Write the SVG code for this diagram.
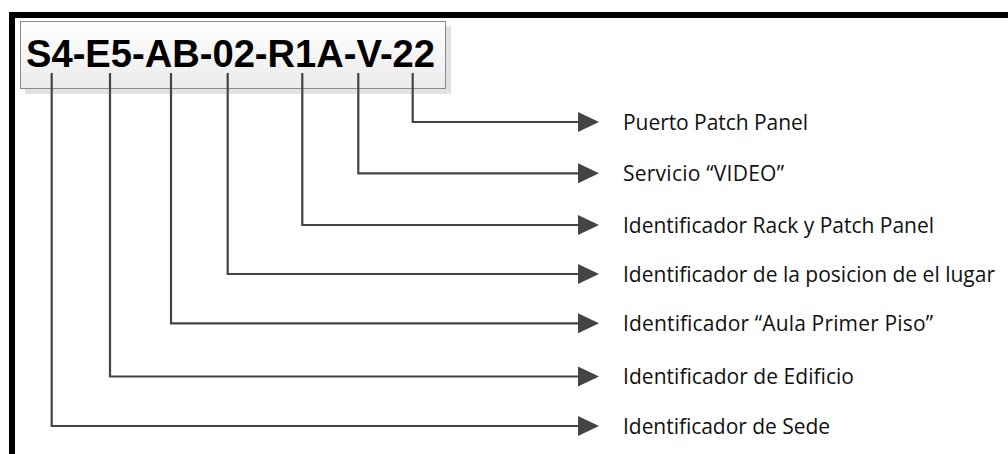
<svg xmlns="http://www.w3.org/2000/svg" width="1008" height="454" viewBox="0 0 1008 454">
<style>
.frame{fill:#000}
.conn{fill:none;stroke:#444;stroke-width:2.2;stroke-linejoin:miter}
.lbl{font-family:"Open Sans","Liberation Sans",sans-serif;font-size:21px;fill:#111}
.code{font-family:"Liberation Sans",Arial,sans-serif;font-weight:bold;font-size:38px;fill:#000}
</style>
<defs>
<linearGradient id="boxg" x1="0" y1="0" x2="0" y2="1">
<stop offset="0" stop-color="#ffffff"/>
<stop offset="1" stop-color="#ebebeb"/>
</linearGradient>
<marker id="arr" markerWidth="21" markerHeight="20" refX="0" refY="10" orient="auto" markerUnits="userSpaceOnUse">
<path d="M0,0 L21,10 L0,20 Z" fill="#444"/>
</marker>
</defs>
<rect width="1008" height="454" fill="#fff"/>
<g id="frame">
<rect class="frame" x="9" y="12" width="999" height="6"/>
<rect class="frame" x="9" y="12" width="6" height="442"/>
</g>
<g id="code-box">
<rect x="25" y="26" width="426" height="68" fill="#e2e2e2"/>
<rect x="20.5" y="21.5" width="425" height="67" fill="url(#boxg)" stroke="#8a8a8a" stroke-width="1"/>
<text class="code" x="26" y="67" textLength="409" lengthAdjust="spacingAndGlyphs">S4-E5-AB-02-R1A-V-22</text>
</g>
<g id="connectors">
<path class="conn" d="M412.7,73 V122 H578" marker-end="url(#arr)"/>
<path class="conn" d="M358.3,73 V173.3 H578" marker-end="url(#arr)"/>
<path class="conn" d="M302.3,73 V225 H578" marker-end="url(#arr)"/>
<path class="conn" d="M227.7,73 V274 H578" marker-end="url(#arr)"/>
<path class="conn" d="M171,73 V323.3 H578" marker-end="url(#arr)"/>
<path class="conn" d="M110,73 V376.5 H578" marker-end="url(#arr)"/>
<path class="conn" d="M51.7,73 V426 H578" marker-end="url(#arr)"/>
</g>
<g id="label-puerto"><text class="lbl" x="623" y="129.8" textLength="185">Puerto Patch Panel</text></g>
<g id="label-servicio"><text class="lbl" x="623" y="181" textLength="161">Servicio “VIDEO”</text></g>
<g id="label-rack"><text class="lbl" x="623" y="232.8" textLength="311">Identificador Rack y Patch Panel</text></g>
<g id="label-posicion"><text class="lbl" x="623" y="281.8" textLength="372">Identificador de la posicion de el lugar</text></g>
<g id="label-aula"><text class="lbl" x="623" y="331" textLength="310">Identificador “Aula Primer Piso”</text></g>
<g id="label-edificio"><text class="lbl" x="623" y="384.2" textLength="231">Identificador de Edificio</text></g>
<g id="label-sede"><text class="lbl" x="623" y="433.8" textLength="207">Identificador de Sede</text></g>
</svg>
